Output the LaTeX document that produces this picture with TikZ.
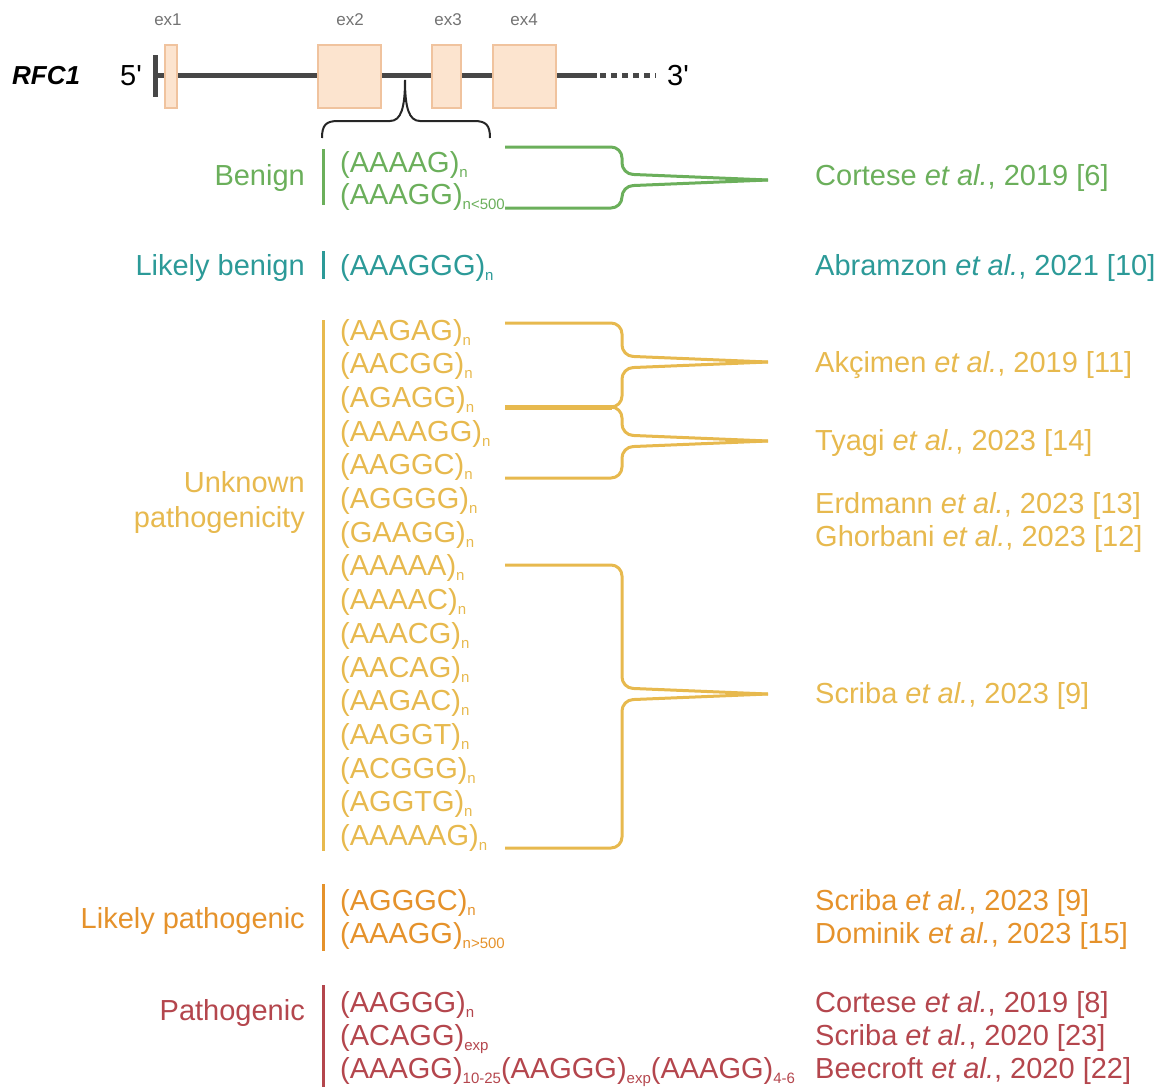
\documentclass[tikz,border=0pt]{standalone}
\usepackage{fontspec}
\setmainfont{Liberation Sans}
\usepackage{xcolor}
\definecolor{cbenign}{HTML}{6BAF5B}
\definecolor{clbenign}{HTML}{2C9A98}
\definecolor{cunknown}{HTML}{E7B94E}
\definecolor{clpath}{HTML}{E5922B}
\definecolor{cpath}{HTML}{B4464D}
\definecolor{exonfill}{HTML}{FCE4CF}
\definecolor{exonline}{HTML}{F0C39E}
\definecolor{genegray}{HTML}{474747}
\newcommand{\rsub}[1]{\raisebox{-5pt}{\fontsize{15}{15}\selectfont #1}}

\begin{document}
\begin{tikzpicture}[x=1pt, y=-1pt,
  txt/.style={inner sep=0pt, font=\fontsize{29}{35}\selectfont},
  seq/.style={txt, anchor=base west},
  cat/.style={txt, anchor=base east, align=right},
  ref/.style={txt, anchor=base west},
  catbar/.style={line width=3pt},
  spike/.style={line width=3pt, rounded corners=11pt},
  exon/.style={draw=exonline, fill=exonfill, line width=1.5pt, minimum height=63pt},
  exlabel/.style={inner sep=0pt, text=black!55, font=\fontsize{17}{17}\selectfont}
]
\useasboundingbox (0,0) rectangle (1167,1087);

% gene model
\node[inner sep=0pt, anchor=west, font=\fontsize{26}{26}\selectfont\bfseries\itshape] (gene) at (12,76) {RFC1};
\node[txt, anchor=west] (five) at (120,76) {5\textquotesingle};
\draw[genegray, line width=5pt] (155,55) -- (155,97);
\draw[genegray, line width=5pt] (155,75) -- (597,75);
\draw[genegray, line width=5pt, dash pattern=on 6pt off 5pt] (600,75) -- (656,75);
\node[txt, anchor=west] (three) at (667,76) {3\textquotesingle};
\node[exon, minimum width=12pt] (ex1) at (171,76.5) {};
\node[exon, minimum width=63pt] (ex2) at (349.5,76.5) {};
\node[exon, minimum width=29pt] (ex3) at (446.5,76.5) {};
\node[exon, minimum width=63pt] (ex4) at (524.5,76.5) {};
\node[exlabel] at (168,20) {ex1};
\node[exlabel] at (350,20) {ex2};
\node[exlabel] at (448,20) {ex3};
\node[exlabel] at (524,20) {ex4};
% brace under intron 2
\draw[line width=2pt, black!85] (322,138) .. controls (322,125) and (326,121) .. (338,121)
  -- (390,121) .. controls (401,121) and (405,108) .. (405,80)
  .. controls (405,108) and (409,121) .. (420,121) -- (474,121)
  .. controls (486,121) and (490,125) .. (490,138);

% categories
\node[cat, text=cbenign] (benign) at (305,185) {Benign};
\node[cat, text=clbenign] (lbenign) at (305,275) {Likely benign};
\node[cat, text=cunknown] (unknown) at (305,527) {Unknown\\pathogenicity};
\node[cat, text=clpath] (lpath) at (305,928) {Likely pathogenic};
\node[cat, text=cpath] (path) at (305,1020) {Pathogenic};
\draw[catbar, cbenign] (323,149) -- (323,205);
\draw[catbar, clbenign] (323,251) -- (323,279);
\draw[catbar, cunknown] (323,320) -- (323,851);
\draw[catbar, clpath] (323,884) -- (323,951);
\draw[catbar, cpath] (323,985) -- (323,1087);

% repeat motifs
\node[seq, text=cbenign] (b1) at (340,172) {(AAAAG)\rsub{n}};
\node[seq, text=cbenign] (b2) at (340,204) {(AAAGG)\rsub{n<500}};
\node[seq, text=clbenign] (lb1) at (340,275) {(AAAGGG)\rsub{n}};
\foreach \s [count=\i from 0] in {AAGAG,AACGG,AGAGG,AAAAGG,AAGGC,AGGGG,GAAGG,AAAAA,
    AAAAC,AAACG,AACAG,AAGAC,AAGGT,ACGGG,AGGTG,AAAAAG}
  \node[seq, text=cunknown] (u\i) at (340,{340+33.7*\i}) {(\s)\rsub{n}};
\node[seq, text=clpath] (lp1) at (340,910) {(AGGGC)\rsub{n}};
\node[seq, text=clpath] (lp2) at (340,943) {(AAAGG)\rsub{n>500}};
\node[seq, text=cpath] (p1) at (340,1012) {(AAGGG)\rsub{n}};
\node[seq, text=cpath] (p2) at (340,1045) {(ACAGG)\rsub{exp}};
\node[seq, text=cpath] (p3) at (340,1078) {(AAAGG)\rsub{10-25}(AAGGG)\rsub{exp}(AAAGG)\rsub{4-6}};

% references
\node[ref, text=cbenign] (r6) at (815,185) {Cortese \textit{et al.}, 2019 [6]};
\node[ref, text=clbenign] (r10) at (815,275) {Abramzon \textit{et al.}, 2021 [10]};
\node[ref, text=cunknown] (r11) at (815,372) {Akçimen \textit{et al.}, 2019 [11]};
\node[ref, text=cunknown] (r14) at (815,450) {Tyagi \textit{et al.}, 2023 [14]};
\node[ref, text=cunknown] (r13) at (815,513) {Erdmann \textit{et al.}, 2023 [13]};
\node[ref, text=cunknown] (r12) at (815,546) {Ghorbani \textit{et al.}, 2023 [12]};
\node[ref, text=cunknown] (r9a) at (815,703) {Scriba \textit{et al.}, 2023 [9]};
\node[ref, text=clpath] (r9b) at (815,910) {Scriba \textit{et al.}, 2023 [9]};
\node[ref, text=clpath] (r15) at (815,943) {Dominik \textit{et al.}, 2023 [15]};
\node[ref, text=cpath] (r8) at (815,1012) {Cortese \textit{et al.}, 2019 [8]};
\node[ref, text=cpath] (r23) at (815,1045) {Scriba \textit{et al.}, 2020 [23]};
\node[ref, text=cpath] (r22) at (815,1078) {Beecroft \textit{et al.}, 2020 [22]};

% spikes joining motifs to their study
\foreach \t/\b/\p/\c in {147/208/180/cbenign, 323/407/362/cunknown,
    407/478/441/cunknown, 565/848/694/cunknown} {
  \draw[spike, \c] (505,\t) -- (622,\t) -- (622,\p-6) -- (768,\p);
  \draw[spike, \c] (505,\b) -- (622,\b) -- (622,\p+6) -- (768,\p);
}
\draw[cunknown, line width=5pt] (505,407) -- (612,407);
\end{tikzpicture}
\end{document}
